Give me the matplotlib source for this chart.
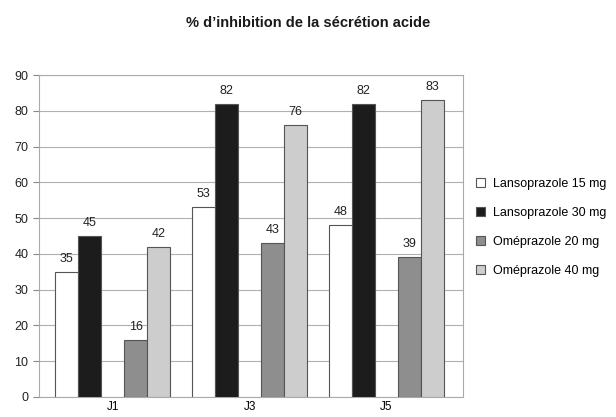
import matplotlib
matplotlib.use("Agg")
import matplotlib.pyplot as plt
import numpy as np

plt.rcParams['font.family'] = ['Liberation Sans', 'DejaVu Sans']

categories = ["J1", "J3", "J5"]
series_names = ["Lansoprazole 15 mg", "Lansoprazole 30 mg", "Oméprazole 20 mg", "Oméprazole 40 mg"]
lanso15 = [35, 53, 48]
lanso30 = [45, 82, 82]
omep20 = [16, 43, 39]
omep40 = [42, 76, 83]
yticks = [0, 10, 20, 30, 40, 50, 60, 70, 80, 90]

series = [lanso15, lanso30, omep20, omep40]
colors = ["#ffffff", "#1c1c1c", "#8e8e8e", "#cdcdcd"]
offsets_mult = [-2, -1, 1, 2]

fig = plt.figure(figsize=(6.16, 4.17), dpi=100)
ax = fig.add_axes([0.063, 0.048, 0.689, 0.772])

w = 0.168
x = np.arange(len(categories))
for s, name, c, m in zip(series, series_names, colors, offsets_mult):
    bars = ax.bar(x + m * w, s, width=w, color=c, edgecolor="#555555", linewidth=0.8,
                  label=name, zorder=3)
    for b, v in zip(bars, s):
        ax.text(b.get_x() + b.get_width() / 2, v + 2.0, str(v), ha="center", va="bottom",
                fontsize=9, color="#222222")

ax.set_ylim(0, 90)
ax.set_xlim(-0.54, 2.56)
ax.set_yticks(yticks)
ax.tick_params(axis='y', labelsize=9, length=4, color="#888888", labelcolor="#222222")
ax.set_xticks(x)
ax.set_xticklabels(categories, fontsize=8.5)
ax.tick_params(axis='x', length=0, pad=3)
ax.yaxis.grid(True, color="#b0b0b0", linewidth=0.8, zorder=0)
for sp in ax.spines.values():
    sp.set_color("#aaaaaa")
    sp.set_linewidth(0.8)

fig.text(0.5, 0.945, "% d\u2019inhibition de la sécrétion acide", ha="center", va="center",
         fontsize=10.5, fontweight="bold", color="#1a1a1a")

leg = fig.legend(loc="center left", bbox_to_anchor=(0.755, 0.455), frameon=False,
                 fontsize=9, handlelength=0.7, handleheight=0.7, handletextpad=0.6,
                 labelspacing=1.35)

fig.savefig("out.png", dpi=100)
